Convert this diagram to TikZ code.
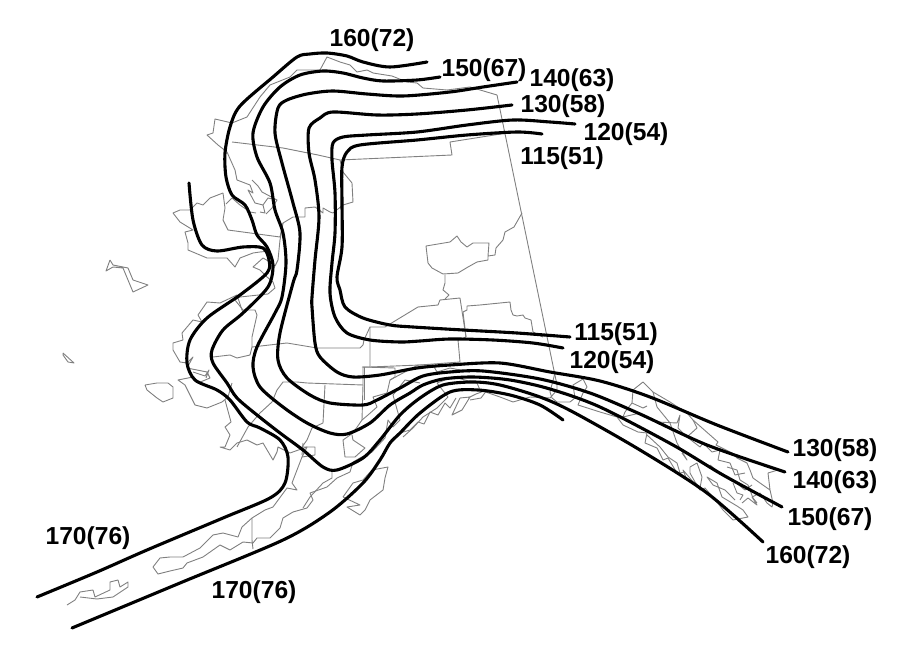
\documentclass[tikz,border=0pt]{standalone}
\usepackage{fontspec}
\setmainfont{Liberation Sans}
\usepackage{tikz}
\colorlet{colorMap}{black!50}
\tikzset{
  mapline/.style={draw=colorMap, line width=0.9pt, line join=round},
  isotach/.style={draw=black, line width=3.1pt, line cap=round, line join=round},
  speedlabel/.style={font=\bfseries\fontsize{24.6}{28}\selectfont, inner sep=0pt}
}
\begin{document}
\begin{tikzpicture}[x=1pt, y=-1pt]
\useasboundingbox (0,0) rectangle (914,663);
% border and north slope
\draw[mapline] (497,95) -- (557,385);
\draw[mapline] (497,95) -- (470,87) -- (447,90) -- (423,88) -- (417,83) -- (407,82) -- (392,76) -- (373,73) -- (367,70) -- (357,72) -- (350,65) -- (340,62) -- (327,57) -- (320,70) -- (307,70) -- (297,70) -- (290,77) -- (270,85) -- (260,97) -- (247,117) -- (232,123) -- (215,119) -- (213,133) -- (207,135) -- (218,145) -- (227,152) -- (235,170) -- (237,180) -- (250,185) -- (253,193) -- (248,190) -- (255,203) -- (263,205) -- (265,213) -- (260,212);
\draw[mapline] (232,142) -- (283,148) -- (318,155) -- (340,160) -- (452,155) -- (450,142) -- (507,133);
\draw[mapline] (340,160) -- (343,172) -- (352,183) -- (353,202) -- (343,205) -- (333,213) -- (330,212) -- (323,208) -- (323,213) -- (315,207) -- (305,208) -- (305,217) -- (293,217) -- (283,223) -- (280,237) -- (228,230) -- (223,220) -- (225,208) -- (223,193);
\draw[mapline] (226,204) -- (232,198) -- (240,205) -- (250,212) -- (256,213);
\draw[mapline] (252,180) -- (258,186) -- (262,192) -- (277,200) -- (268,198) -- (263,205);
\draw[mapline] (277,200) -- (272,208) -- (266,214);
% seward and norton sound
\draw[mapline] (223,193) -- (210,198) -- (203,205) -- (197,203) -- (190,210) -- (180,210) -- (173,213) -- (180,222) -- (193,230) -- (185,232) -- (188,243) -- (188,250) -- (207,258) -- (227,258) -- (235,267) -- (240,258) -- (253,253) -- (260,252) -- (270,251);
\draw[mapline] (283,223) -- (280,240) -- (278,260) -- (275,266) -- (270,262) -- (263,258) -- (253,267) -- (260,270) -- (267,277) -- (273,282) -- (275,288) -- (268,294) -- (240,297) -- (235,300) -- (243,310) -- (255,310) -- (257,315) -- (252,337) -- (252,347);
% yukon delta
\draw[mapline] (243,313) -- (237,295) -- (220,303) -- (207,302) -- (198,315) -- (202,322) -- (193,320) -- (182,333) -- (183,340) -- (173,343) -- (173,350) -- (180,362) -- (187,363) -- (193,357) -- (187,368) -- (207,372) -- (210,378) -- (198,383) -- (193,377) -- (178,380) -- (185,385) -- (195,405) -- (207,408) -- (222,402) -- (228,397) -- (232,383);
\draw[mapline] (193,372) -- (205,376) -- (209,370) -- (206,378);
\draw[mapline] (213,357) -- (230,355) -- (237,358) -- (250,355) -- (252,347) -- (287,343) -- (317,348) -- (360,348) -- (363,345) -- (364,340) -- (370,327) -- (385,327) -- (418,307) -- (438,305) -- (440,300) -- (460,298) -- (466,337);
% bristol bay
\draw[mapline] (225,400) -- (231,422) -- (225,427) -- (230,435) -- (225,447) -- (220,447) -- (230,450) -- (237,443) -- (247,440) -- (257,445) -- (263,443) -- (273,460) -- (277,452) -- (278,447) -- (290,453) -- (307,447) -- (302,457) -- (297,470) -- (292,483) -- (297,490) -- (287,488) -- (273,507) -- (265,510) -- (252,518) -- (242,527) -- (238,537) -- (223,533) -- (213,535) -- (200,548) -- (183,557) -- (170,557) -- (160,558) -- (153,567) -- (158,574) -- (170,571) -- (183,568) -- (187,563) -- (203,557) -- (220,545) -- (230,550) -- (243,542) -- (253,543) -- (257,538) -- (270,538) -- (280,528) -- (283,518) -- (293,512) -- (307,508) -- (313,500) -- (310,493) -- (327,487) -- (337,478) -- (350,472) -- (353,462);
\draw[mapline] (252,518) -- (252,540) -- (253,549);
\draw[mapline] (67,605) -- (75,600) -- (80,592) -- (93,590) -- (95,597) -- (110,590) -- (110,582) -- (118,580) -- (120,587) -- (128,582) -- (128,587) -- (113,597) -- (97,599) -- (80,597);
% interior boroughs
\draw[mapline] (277,390) -- (283,382) -- (297,382) -- (307,383) -- (363,385) -- (363,367) -- (370,367) -- (370,327);
\draw[mapline] (325,385) -- (323,423) -- (312,428) -- (307,440) -- (302,447) -- (315,447) -- (315,455) -- (302,457);
\draw[mapline] (303,443) -- (302,455);
\draw[mapline] (277,390) -- (272,402) -- (260,413) -- (248,427) -- (237,447);
\draw[mapline] (363,385) -- (362,420) -- (353,433) -- (343,440) -- (345,457) -- (355,457) -- (365,448) -- (353,440) -- (352,435);
\draw[mapline] (370,367) -- (420,365) -- (460,362) -- (458,340) -- (466,337);
\draw[mapline] (362,367) -- (395,368) -- (395,377) -- (390,380);
\draw[mapline] (364,367) -- (364,400);
% south coast
\draw[mapline] (332,472) -- (332,478) -- (323,483) -- (310,497) -- (303,508);
\draw[mapline] (362,420) -- (368,415) -- (377,407) -- (373,397) -- (387,393) -- (390,380) -- (403,373) -- (418,365) -- (433,365) -- (437,372) -- (450,368) -- (470,372);
\draw[mapline] (353,462) -- (360,458) -- (372,452) -- (385,438) -- (388,420) -- (393,427) -- (400,420) -- (393,395) -- (405,380) -- (420,383);
\draw[mapline] (403,437) -- (413,428) -- (423,417) -- (437,408) -- (448,397) -- (437,383) -- (453,377) -- (477,383) -- (480,390) -- (500,397) -- (513,402) -- (530,397) -- (550,398) -- (557,390) -- (557,383);
\draw[mapline] (400,433) -- (410,430) -- (418,422) -- (424,424) -- (430,412) -- (438,415) -- (445,403) -- (450,408) -- (456,398);
\draw[mapline] (460,398) -- (452,415) -- (462,410) -- (470,397) -- (460,398);
\draw[mapline] (468,398) -- (476,394) -- (487,390) -- (481,398) -- (470,400);
% kodiak
\draw[mapline] (343,497) -- (353,483) -- (363,480) -- (372,470) -- (388,467) -- (385,478) -- (383,490) -- (370,500) -- (365,510) -- (360,515) -- (347,507) -- (360,505) -- (343,497);
% panhandle
\draw[mapline] (555,373) -- (550,392) -- (552,398) -- (557,402) -- (570,402) -- (575,398) -- (573,385) -- (583,379) -- (587,387) -- (583,393) -- (578,405) -- (600,412) -- (617,417) -- (623,425) -- (638,432) -- (647,433) -- (645,443) -- (657,448) -- (663,460) -- (668,458) -- (677,473) -- (687,480) -- (683,470) -- (700,490) -- (705,488) -- (717,502) -- (723,510) -- (733,520) -- (748,517) -- (743,510) -- (737,506) -- (722,497) -- (717,483) -- (707,477) -- (713,485) -- (725,490) -- (735,500);
\draw[mapline] (633,390) -- (643,382) -- (653,392) -- (670,402) -- (687,413) -- (693,420) -- (718,442) -- (716,445) -- (732,453) -- (737,458) -- (747,463) -- (750,470) -- (753,478) -- (760,483) -- (770,490) -- (768,473) -- (778,470);
\draw[mapline] (770,490) -- (773,503) -- (772,507) -- (767,503) -- (760,493) -- (752,497) -- (757,505) -- (748,498) -- (742,503);
\draw[mapline] (633,390) -- (632,403) -- (625,412) -- (623,417) -- (640,413) -- (657,422) -- (677,423) -- (680,415) -- (678,428) -- (687,437) -- (697,428) -- (693,420);
\draw[mapline] (632,403) -- (643,408) -- (647,406);
\draw[mapline] (653,392) -- (657,407) -- (670,423) -- (677,443) -- (687,460) -- (682,453);
\draw[mapline] (687,437) -- (700,447) -- (703,443) -- (712,452) -- (720,450) -- (718,460) -- (730,463) -- (735,475) -- (745,473);
\draw[mapline] (690,467) -- (697,463) -- (702,477) -- (700,488) -- (695,482) -- (690,473) -- (690,467);
\draw[mapline] (710,465) -- (722,475) -- (735,482) -- (745,490) -- (752,485);
\draw[mapline] (647,435) -- (660,447) -- (668,457) -- (677,463) -- (680,473) -- (685,472);
\draw[mapline] (727,467) -- (737,470) -- (740,480) -- (748,485) -- (753,498) -- (757,503);
\draw[mapline] (733,483) -- (737,493) -- (743,495) -- (740,500);
% islands
\draw[mapline] (110,260) -- (106,271) -- (113,267) -- (123,268) -- (133,292) -- (148,285) -- (133,280) -- (128,268) -- (113,265) -- (110,260);
\draw[mapline] (63,353) -- (74,363) -- (68,362) -- (63,355) -- (63,353);
\draw[mapline] (145,385) -- (157,383) -- (168,383) -- (173,387) -- (173,398) -- (163,402) -- (157,398) -- (147,390) -- (145,385);
% interior lakes and divides
\draw[mapline] (522,213) -- (514,227) -- (505,232) -- (503,240) -- (496,248) -- (495,255) -- (488,256) -- (489,243) -- (473,243) -- (467,247) -- (461,242) -- (457,236) -- (450,242) -- (426,246) -- (428,263) -- (432,268) -- (443,274) -- (458,273) -- (468,267) -- (477,262) -- (488,260) -- (488,256);
\draw[mapline] (445,275) -- (445,283) -- (443,290) -- (449,295) -- (445,299);
\draw[mapline] (463,312) -- (467,310) -- (467,306) -- (480,305) -- (510,302) -- (511,310) -- (513,315) -- (517,316) -- (523,315) -- (525,318) -- (531,320) -- (533,332) -- (543,337);
\draw[mapline] (463,312) -- (466,337);
% wind speed contours
\draw[isotach] plot[smooth, tension=0.5] coordinates {(427,62) (390,67) (363,62) (347,56) (327,53) (310,54) (297,57) (273,77) (240,106) (230,127) (225,153) (226,177) (232,195) (245,205) (252,220) (257,235) (267,247) (273,265) (268,287) (243,313) (223,330) (212,350) (213,363) (227,383) (237,398) (257,415) (280,433) (303,450) (323,467) (337,470) (363,458) (380,440) (400,415) (420,398) (443,385) (473,382) (500,385) (540,397) (573,412) (640,450) (707,493) (763,542)};
\draw[isotach] plot[smooth, tension=0.5] coordinates {(189,183) (193,220) (202,245) (217,251) (243,247) (263,248) (269,260) (267,273) (240,295) (207,318) (190,340) (187,363) (195,380) (217,390) (230,400) (247,422) (260,428) (280,440) (288,457) (285,483) (270,498) (223,518) (147,550) (97,572) (37,597)};
\draw[isotach] plot[smooth, tension=0.5] coordinates {(72,628) (180,583) (283,540) (330,512) (363,483) (380,460) (390,443) (400,433) (420,413) (450,392) (478,390) (510,395) (540,405) (563,420)};
\draw[isotach] plot[smooth, tension=0.5] coordinates {(440,77) (417,80) (383,81) (363,78) (343,73) (323,71) (300,75) (280,87) (263,107) (253,133) (257,157) (270,183) (275,210) (283,233) (286,263) (282,297) (275,313) (257,347) (253,367) (260,387) (283,407) (307,423) (330,433) (347,434) (370,423) (390,405) (410,393) (423,385) (443,379) (473,377) (510,380) (550,389) (600,407) (673,445) (723,475) (782,507)};
\draw[isotach] plot[smooth, tension=0.5] coordinates {(517,82) (483,87) (450,92) (403,96) (367,94) (333,91) (307,94) (287,100) (278,108) (275,133) (282,163) (293,203) (300,233) (297,270) (293,283) (280,333) (278,360) (287,378) (310,395) (330,403) (363,405) (377,400) (400,388) (423,376) (450,372) (483,371) (540,379) (590,393) (640,414) (707,445) (785,472)};
\draw[isotach] plot[smooth, tension=0.5] coordinates {(512,105) (467,110) (417,114) (377,115) (333,112) (320,118) (309,128) (309,153) (315,180) (319,217) (315,260) (312,297) (312,307) (315,343) (320,357) (337,372) (353,377) (380,375) (417,368) (450,365) (500,363) (550,372) (600,381) (650,397) (717,425) (788,452)};
\draw[isotach] plot[smooth, tension=0.5] coordinates {(575,124) (550,122) (513,120) (467,125) (417,132) (367,135) (343,137) (333,143) (332,160) (335,193) (335,233) (332,263) (330,293) (335,317) (347,333) (370,340) (400,342) (420,341) (450,339) (493,340) (533,343) (563,348)};
\draw[isotach] plot[smooth, tension=0.5] coordinates {(542,134) (517,132) (467,135) (417,140) (360,145) (347,152) (342,167) (342,203) (342,247) (337,277) (340,290) (345,307) (363,318) (390,325) (413,327) (463,330) (517,333) (570,337)};
% speed labels
\node[speedlabel] (n160) at (372,40) {160(72)};
\node[speedlabel] (n150) at (484,70) {150(67)};
\node[speedlabel] (n140) at (572,80) {140(63)};
\node[speedlabel] (n130) at (563,106) {130(58)};
\node[speedlabel] (n120) at (626,134) {120(54)};
\node[speedlabel] (n115) at (562,158) {115(51)};
\node[speedlabel] (s115) at (616,334) {115(51)};
\node[speedlabel] (s120) at (612,362) {120(54)};
\node[speedlabel] (s130) at (835,450) {130(58)};
\node[speedlabel] (s140) at (835,482) {140(63)};
\node[speedlabel] (s150) at (830,519) {150(67)};
\node[speedlabel] (s160) at (808,557) {160(72)};
\node[speedlabel] (w170) at (88,538) {170(76)};
\node[speedlabel] (e170) at (254,592) {170(76)};
\end{tikzpicture}
\end{document}
